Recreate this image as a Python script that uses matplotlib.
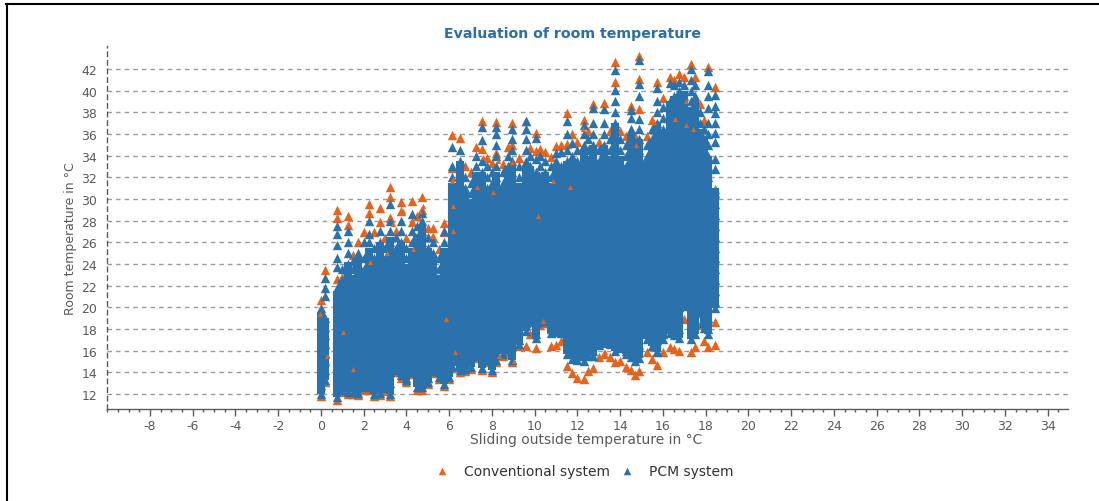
import matplotlib
matplotlib.use("Agg")
import matplotlib.pyplot as plt
from matplotlib.lines import Line2D
from matplotlib.ticker import MultipleLocator

# Each column holds the room temperatures at one
# sliding outside temperature. Individual points inside the dense mass cannot be read
# exactly, so pcm_core_top records the height up to which a column is solid blue:
# that saturated part is drawn as a bar, and the separate triangles as a scatter.
column_x = [0, 0.2, 0.75, 1.0, 1.25, 1.5, 1.75, 2.0, 2.25, 2.5, 2.75, 3.0, 3.25, 3.5, 3.75, 4.0, 4.25, 4.5, 4.75, 5.0,
            5.25, 5.5, 5.75, 6.0, 6.15, 6.5, 6.75, 7.0, 7.25, 7.55, 7.75, 8.0, 8.2, 8.5, 8.75, 8.95, 9.25, 9.6, 9.8, 10.05,
            10.25, 10.5, 10.75, 11.0, 11.25, 11.5, 11.75, 12.0, 12.3, 12.5, 12.75, 13.0, 13.25, 13.5, 13.75, 14.0, 14.25, 14.5, 14.7, 14.9,
            15.25, 15.5, 15.7, 16.0, 16.35, 16.5, 16.75, 17.0, 17.3, 17.5, 17.75, 17.9, 18.1, 18.45]

pcm_core_top = [19.5, 19, 21.5, 22.5, 24.2, 23, 24.5, 23.5, 25.5, 24.5, 26, 24.5, 26.5, 25, 26, 24, 25.5, 26.8, 27.5, 25.5,
                24.5, 23, 25.5, 22.5, 31.5, 33.5, 30.5, 30, 32.5, 32.5, 31, 31, 32.5, 31, 33, 33, 31.5, 33, 33, 32.5,
                32, 32.5, 31.5, 33, 33, 33.5, 33.5, 33, 34.5, 34, 35, 33.5, 35, 34, 37, 34, 33, 36, 33.5, 35.5,
                33.5, 35.5, 37, 36.5, 39, 39.5, 39.5, 40, 38.5, 39, 36.5, 35.5, 34, 31]

pcm_columns = [
 [12,12.8,13.6,14.4,15.2,16,16.8,17.6,18.4,19.2,19.9],
 [13.3,14.2,15,15.8,16.6,17.4,18.2,19,21,21.8,22.7],
 [11.7,12.5,13.3,14,15,16,17,18,19,20,21,21.8,23.7,24.5,25.7,26.8,27.5],
 [12.4,13.5,14.5,15.5,16.5,17.5,18.5,19.5,20.5,21.5,22.5,23.5],
 [12.2,13,14,15,16,17,18,19,20,21,22,23,24,25,26,27],
 [12.2,13.5,14.5,15.5,16.5,17.5,18.5,19.5,20.5,21.5,22.5,23.5,24.3],
 [12.1,13,14,15,16,17,18,19,20,21,22,23,24,25],
 [12.6,13.5,14.5,15.5,16.5,17.5,18.5,19.5,20.5,21.5,22.5,23.5,24.5,26],
 [12.6,13,14,15,16,17,18,19,20,21,22,23,24,25,26,26.8,28],
 [12,13.5,14.5,15.5,16.5,17.5,18.5,19.5,20.5,21.5,22.5,23.5,24.5,25.5],
 [12.1,13,14,15,16,17,18,19,20,21,22,23,24,25,26,27],
 [12.5,13.5,14.5,15.5,16.5,17.5,18.5,19.5,20.5,21.5,22.5,23.5,24.5,25.5],
 [12,13,14,15,16,17,18,19,20,21,22,23,24,25,26,27,28,29.5],
 [14.2,14.5,15.5,16.5,17.5,18.5,19.5,20.5,21.5,22.5,23.5,24.5,25.5,26.5],
 [13.7,14,15,16,17,18,19,20,21,22,23,24,25,26,27,28],
 [13.3,13.5,14.5,15.5,16.5,17.5,18.5,19.5,20.5,21.5,22.5,23.5,24.5,25.5],
 [14,15,16,17,18,19,20,21,22,23,24,25,26,27,28.6],
 [12.6,13.5,14.5,15.5,16.5,17.5,18.5,19.5,20.5,21.5,22.5,23.5,24.5,25.5,26.5,27.5],
 [12.6,13,14,15,16,17,18,19,20,21,22,23,24,25,26,27,28,28.7],
 [13.1,13.5,14.5,15.5,16.5,17.5,18.5,19.5,20.5,21.5,22.5,23.5,24.5,25.5,26.5],
 [14.1,15,16,17,18,19,20,21,22,23,24,25,26],
 [13.6,14.5,15.5,16.5,17.5,18.5,19.5,20.5,21.5,22.5,23.5,24.5],
 [12.9,14,15,16,17,18,19,20,21,22,23,24,25,26,27],
 [13.6,14.5,15.5,16.5,17.5,18.5,19.5,20.5,21.5,22.5,23.5],
 [14.6,15,16,17,18,19,20,21,22,23,24,25,26,27,28,29,30,31,32,33,34.8],
 [14.2,14.5,15.5,16.5,17.5,18.5,19.5,20.5,21.5,22.5,23.5,24.5,25.5,26.5,27.5,28.5,29.5,30.5,31.5,32.5,33.5,34.5],
 [14.3,15,16,17,18,19,20,21,22,23,24,25,26,27,28,29,30,31,32],
 [14.5,15.5,16.5,17.5,18.5,19.5,20.5,21.5,22.5,23.5,24.5,25.5,26.5,27.5,28.5,29.5,30.5,31.5],
 [15.5,16,17,18,19,20,21,22,23,24,25,26,27,28,29,30,31,32,33,34],
 [14.4,15.5,16.5,17.5,18.5,19.5,20.5,21.5,22.5,23.5,24.5,25.5,26.5,27.5,28.5,29.5,30.5,31.5,32.5,33.5,35.4,36.6],
 [15.1,16,17,18,19,20,21,22,23,24,25,26,27,28,29,30,31,32,33],
 [14.2,15.5,16.5,17.5,18.5,19.5,20.5,21.5,22.5,23.5,24.5,25.5,26.5,27.5,28.5,29.5,30.5,31.5,32.5],
 [15.1,16,17,18,19,20,21,22,23,24,25,26,27,28,29,30,31,32,33,34,35,36,36.6],
 [15.7,16.5,17.5,18.5,19.5,20.5,21.5,22.5,23.5,24.5,25.5,26.5,27.5,28.5,29.5,30.5,31.5,32.5],
 [16.1,17,18,19,20,21,22,23,24,25,26,27,28,29,30,31,32,33,34],
 [15.1,16.5,17.5,18.5,19.5,20.5,21.5,22.5,23.5,24.5,25.5,26.5,27.5,28.5,29.5,30.5,31.5,32.5,33.5,34.5,35.5,36.5],
 [16.6,17,18,19,20,21,22,23,24,25,26,27,28,29,30,31,32,33],
 [17.8,18.5,19.5,20.5,21.5,22.5,23.5,24.5,25.5,26.5,27.5,28.5,29.5,30.5,31.5,32.5,33.5,34.5,35.5,36.5,37.2],
 [18.6,19,20,21,22,23,24,25,26,27,28,29,30,31,32,33,34],
 [17.2,17.5,18.5,19.5,20.5,21.5,22.5,23.5,24.5,25.5,26.5,27.5,28.5,29.5,30.5,31.5,32.5,33.7,35.6],
 [18.6,19,20,21,22,23,24,25,26,27,28,29,30,31,32,33,34],
 [18.7,19.5,20.5,21.5,22.5,23.5,24.5,25.5,26.5,27.5,28.5,29.5,30.5,31.5,32.5,33.5],
 [17.6,18,19,20,21,22,23,24,25,26,27,28,29,30,31,32,33],
 [17.7,18.5,19.5,20.5,21.5,22.5,23.5,24.5,25.5,26.5,27.5,28.5,29.5,30.5,31.5,32.5,33.5,34.2],
 [17.6,18,19,20,21,22,23,24,25,26,27,28,29,30,31,32,33,34.3],
 [15.7,16.5,17.5,18.5,19.5,20.5,21.5,22.5,23.5,24.5,25.5,26.5,27.5,28.5,29.5,30.5,31.5,32.5,33.5,34.5,36,37.2],
 [15.2,16,17,18,19,20,21,22,23,24,25,26,27,28,29,30,31,32,33,34,35.2],
 [15.1,15.5,16.5,17.5,18.5,19.5,20.5,21.5,22.5,23.5,24.5,25.5,26.5,27.5,28.5,29.5,30.5,31.5,32.5,33.5,34.5],
 [15,16,17,18,19,20,21,22,23,24,25,26,27,28,29,30,31,32,33,34,35,36,36.8],
 [15.5,16.5,17.5,18.5,19.5,20.5,21.5,22.5,23.5,24.5,25.5,26.5,27.5,28.5,29.5,30.5,31.5,32.5,33.5,34.5,35.5],
 [15.5,16,17,18,19,20,21,22,23,24,25,26,27,28,29,30,31,32,33,34,35,36,37,38.4],
 [16.5,17.5,18.5,19.5,20.5,21.5,22.5,23.5,24.5,25.5,26.5,27.5,28.5,29.5,30.5,31.5,32.5,33.5,34.5],
 [16.7,17,18,19,20,21,22,23,24,25,26,27,28,29,30,31,32,33,34,35,36,37,38.3],
 [16.6,17.5,18.5,19.5,20.5,21.5,22.5,23.5,24.5,25.5,26.5,27.5,28.5,29.5,30.5,31.5,32.5,33.5,34.5,35.5],
 [16,17,18,19,20,21,22,23,24,25,26,27,28,29,30,31,32,33,34,35,36,37,38,39,40.1,41.9],
 [16.2,16.5,17.5,18.5,19.5,20.5,21.5,22.5,23.5,24.5,25.5,26.5,27.5,28.5,29.5,30.5,31.5,32.5,33.5,34.5,35.5],
 [15.7,16,17,18,19,20,21,22,23,24,25,26,27,28,29,30,31,32,33,34,35],
 [15.4,16.5,17.5,18.5,19.5,20.5,21.5,22.5,23.5,24.5,25.5,26.5,27.5,28.5,29.5,30.5,31.5,32.5,33.5,34.5,35.5,36.5,37.5,38.2],
 [15,16,17,18,19,20,21,22,23,24,25,26,27,28,29,30,31,32,33,34,35],
 [15.3,16.5,17.5,18.5,19.5,20.5,21.5,22.5,23.5,24.5,25.5,26.5,27.5,28.5,29.5,30.5,31.5,32.5,33.5,34.5,35.5,36.5,37.4,39.5,40.6,42.8],
 [17.1,18,19,20,21,22,23,24,25,26,27,28,29,30,31,32,33,34,35],
 [16.4,17.5,18.5,19.5,20.5,21.5,22.5,23.5,24.5,25.5,26.5,27.5,28.5,29.5,30.5,31.5,32.5,33.5,34.5,35.5,36.5],
 [15.9,16,17,18,19,20,21,22,23,24,25,26,27,28,29,30,31,32,33,34,35,36,37,38,39,40.2],
 [17.1,17.5,18.5,19.5,20.5,21.5,22.5,23.5,24.5,25.5,26.5,27.5,28.5,29.5,30.5,31.5,32.5,33.5,34.5,35.5,36.5,37.5,38.5],
 [17.6,18,19,20,21,22,23,24,25,26,27,28,29,30,31,32,33,34,35,36,37,38,39,40.7],
 [17.4,18.5,19.5,20.5,21.5,22.5,23.5,24.5,25.5,26.5,27.5,28.5,29.5,30.5,31.5,32.5,33.5,34.5,35.5,36.5,37.5,38.5,39.5,40.5],
 [17.2,18,19,20,21,22,23,24,25,26,27,28,29,30,31,32,33,34,35,36,37,38,39,40,40.8],
 [20.1,20.5,21.5,22.5,23.5,24.5,25.5,26.5,27.5,28.5,29.5,30.5,31.5,32.5,33.5,34.5,35.5,36.5,37.5,38.5,39.5,40.5],
 [17.1,18,19,20,21,22,23,24,25,26,27,28,29,30,31,32,33,34,35,36,37,38,39,40,41,42],
 [17.5,18.5,19.5,20.5,21.5,22.5,23.5,24.5,25.5,26.5,27.5,28.5,29.5,30.5,31.5,32.5,33.5,34.5,35.5,36.5,37.5,38.5,39.5,40.5],
 [19.6,20,21,22,23,24,25,26,27,28,29,30,31,32,33,34,35,36,37,38],
 [18.1,18.5,19.5,20.5,21.5,22.5,23.5,24.5,25.5,26.5,27.5,28.5,29.5,30.5,31.5,32.5,33.5,34.5,35.5,36.5],
 [17.5,18,19,20,21,22,23,24,25,26,27,28,29,30,31,32,33,34,35,36,37,38.4,39.5,40.5,41.8],
 [19.9,20.5,21.5,22.5,23.5,24.5,25.5,26.5,27.5,28.5,29.5,30.5,32.8,33.7,35.3,36.1,37,37.9,38.6,39.6],
]

conv_columns = [
 [11.8,20.7], [13.1,23.4], [11.4,22.6,28.2,29], [12.2,22.8], [12,27.6,28.4], [12,24.8], [11.9,26], [12.4,26.9], [12.4,28.7,29.5],
 [11.8,26.9], [11.9,27.9,29.2], [12.3,26.4], [11.8,28.2,30.2,31.1], [14,27], [13.5,28.9,29.7], [13.1,26.4], [13.8,27.9,29.8], [12.4,28.4],
 [12.4,29,30.2], [12.9,27.3], [13.9,26.5,27.3], [13.4,25.4], [12.7,26.9,27.8], [13.4,24.2], [14.4,32.9,35.9], [14,33.1,35.6], [14.1,33],
 [14.3,32.5], [15.3,34.8], [14.2,34.6,37.2], [14.9,33.8], [14,33.3], [14.9,34.2,37.1], [15.5,33.2], [15.9,34.8], [14.9,35,37],
 [16.4,33.8], [16.4,37.2], [17.5,34.7], [16.2,34.4,36.1], [18.4,34.6], [18.5,34.3], [16.4,33.9], [16.5,34.9], [16.9,35], [14.6,35.1,37.9],
 [13.9,36], [13.5,35.3], [13.4,37.3], [14.1,36.3], [14.4,38.8], [15.4,35.3], [15.7,38.9], [15.4,36.3], [14.9,40.8,42.6], [15,36.3],
 [14.5,35.8], [14.2,38.6], [13.7,35.8], [14.1,38.3,41.1,43.2], [15.9,35.8], [15.2,37.3], [14.7,40.8], [15.9,39.3], [16.3,41.3],
 [16.1,41], [16,41.5], [18.9,41.3], [15.9,42.5], [16.3,41.3], [18.4,38.8], [16.9,37.3], [16.3,42.2], [16.5,18.6,30.9,40.3],
]

# Conventional-system points that show through gaps in the blue mass.
conv_speck_x = [3.23, 3.37, 3.85, 4.77, 4.63, 2.9, 1.9, 4.3, 5.2, 6.17, 6.17, 6.13, 2.3, 3.1, 7.3, 8.05, 8.3, 8.95, 6.17, 10.85,
                11.65, 10.15, 7.6, 17.1, 13.3, 12.25, 11.5, 14.75, 15.6, 16.55, 17.4, 17.1, -0.05, 0.28, 1.03, 1.5, 5.85, 6.25, 8.35, 9.05,
                10.4, 13.3]
conv_speck_y = [28.4, 27.7, 28.9, 29.3, 28.9, 26.3, 26.8, 25.4, 26.6, 27, 29.3, 31.7, 24.2, 25, 31.1, 30.6, 33.5, 33.4, 31.8, 31.7,
                31.1, 28.4, 33.9, 39, 38.8, 36.5, 37.9, 35, 37.1, 37.4, 36.5, 36.8, 19.4, 15.5, 17.7, 14.3, 18.9, 15.9, 15.5, 15,
                18.7, 15.9]

xtick_values = [-8, -6, -4, -2, 0, 2, 4, 6, 8, 10, 12, 14, 16, 18, 20, 22, 24, 26, 28, 30, 32, 34]
ytick_values = [12, 14, 16, 18, 20, 22, 24, 26, 28, 30, 32, 34, 36, 38, 40, 42]

ORANGE = "#e5631a"
BLUE = "#2a72ab"
GREY = "#5a5a5a"
W, H = 1099, 502

plt.rcParams["font.family"] = "DejaVu Sans"
plt.rcParams["axes.unicode_minus"] = False
fig = plt.figure(figsize=(W / 100, H / 100), dpi=100, facecolor="white")
ax = fig.add_axes([107 / W, 1 - 410 / H, (1068 - 107) / W, (410 - 47) / H])
ax.set_xlim(-10.01, 34.95)
ax.set_ylim(10.6, 44.12)

conv_x = [x for x, ys in zip(column_x, conv_columns) for _ in ys]
conv_y = [y for ys in conv_columns for y in ys]
pcm_x = [x for x, ys in zip(column_x, pcm_columns) for _ in ys]
pcm_y = [y for ys in pcm_columns for y in ys]

conv = ax.scatter(conv_x, conv_y, marker="^", s=46, color=ORANGE, linewidths=0, zorder=3, clip_on=False)
pcm = ax.scatter(pcm_x, pcm_y, marker="^", s=46, color=BLUE, linewidths=0, zorder=4, clip_on=False)
ax.vlines(column_x, [ys[0] for ys in pcm_columns], pcm_core_top, color=BLUE, lw=5.8, capstyle="butt", zorder=4)
ax.scatter(conv_speck_x, conv_speck_y, marker="^", s=14, color=ORANGE, linewidths=0, zorder=5)

ax.set_yticks(ytick_values)
ax.set_xticks(xtick_values)
ax.xaxis.set_minor_locator(MultipleLocator(0.5))
ax.grid(axis="y", color="#999999", lw=1, dashes=(3.2, 3.0), zorder=1)
ax.tick_params(axis="y", length=0, pad=7, labelsize=9, labelcolor=GREY)
ax.tick_params(axis="x", which="major", length=5, width=1, color=GREY, pad=2, labelsize=9, labelcolor=GREY)
ax.tick_params(axis="x", which="minor", length=2.5, width=1, color=GREY)

for side in ("top", "right"):
    ax.spines[side].set_visible(False)
ax.spines["bottom"].set_color(GREY)
ax.spines["bottom"].set_linewidth(1)
ax.spines["left"].set_color(GREY)
ax.spines["left"].set_linewidth(1)
ax.spines["left"].set_linestyle((0, (3.2, 3.0)))

fig.text(572.5 / W, 1 - 34 / H, "Evaluation of room temperature", ha="center", va="center",
         fontsize=10.2, fontweight="bold", color="#2a6fa8")
fig.text(586.5 / W, 1 - 440 / H, "Sliding outside temperature in °C", ha="center", va="center",
         fontsize=10, color=GREY)
fig.text(70.5 / W, 1 - 239 / H, "Room temperature in °C", ha="center", va="center",
         rotation=90, fontsize=9, color=GREY)

leg = fig.legend([conv, pcm], ["Conventional system", "PCM system"], ncol=2, frameon=False,
                 loc="center", bbox_to_anchor=(581 / W, 1 - 472 / H), fontsize=10, labelcolor="#333333",
                 handletextpad=0.58, columnspacing=0.2, markerscale=0.8)

fig.add_artist(Line2D([7 / W, 7 / W], [0, 1 - 5 / H], color="black", lw=1.5, transform=fig.transFigure))
fig.add_artist(Line2D([6 / W, 1], [1 - 5 / H, 1 - 5 / H], color="black", lw=1.5, transform=fig.transFigure))

fig.savefig("out.png", dpi=100, facecolor="white")
